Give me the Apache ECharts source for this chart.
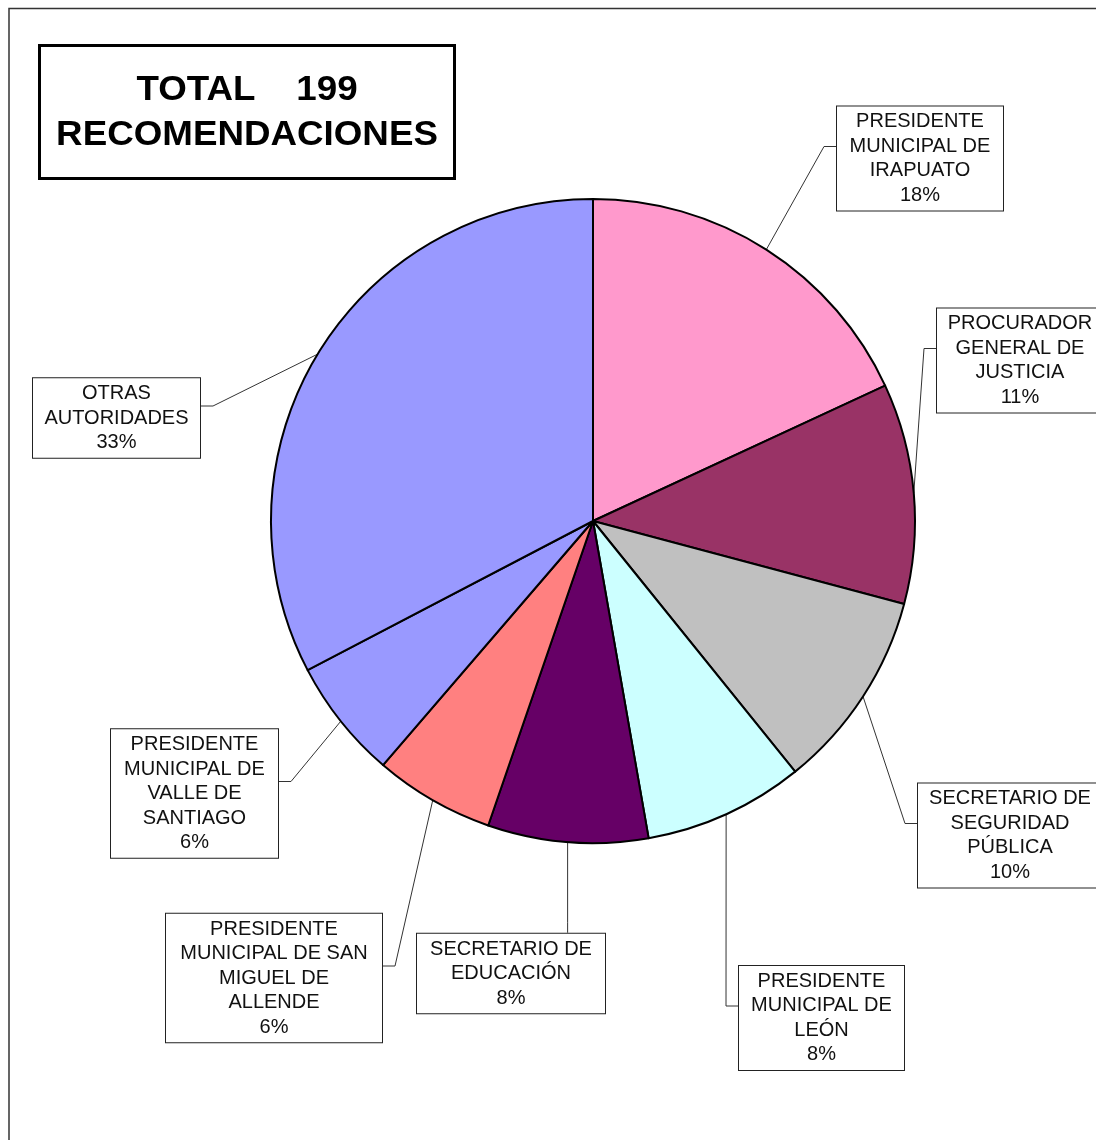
<!DOCTYPE html>
<html><head><meta charset="utf-8">
<script src="https://cdn.jsdelivr.net/npm/echarts@6/dist/echarts.min.js"></script>
<style>html,body{margin:0;padding:0;background:#fff}#c{width:1096px;height:1140px}</style>
</head><body><div id="c"></div>
<script>
const categories = [
  'PRESIDENTE\nMUNICIPAL DE\nIRAPUATO',
  'PROCURADOR\nGENERAL DE\nJUSTICIA',
  'SECRETARIO DE\nSEGURIDAD\nPÚBLICA',
  'PRESIDENTE\nMUNICIPAL DE\nLEÓN',
  'SECRETARIO DE\nEDUCACIÓN',
  'PRESIDENTE\nMUNICIPAL DE SAN\nMIGUEL DE\nALLENDE',
  'PRESIDENTE\nMUNICIPAL DE\nVALLE DE\nSANTIAGO',
  'OTRAS\nAUTORIDADES'
];
const values = [36, 22, 20, 16, 16, 12, 12, 65];
const colors = ['#FF99CC', '#993366', '#C0C0C0', '#CCFFFF', '#660066', '#FF8080', '#9999FF', '#9999FF'];
const titleLines = ['TOTAL    199', 'RECOMENDACIONES'];

// label box layout (center, outer width, side the leader line attaches to)
const labelBoxes = [
  {cx: 920, cy: 158.5, w: 168, side: 'right'},
  {cx: 1020, cy: 360.5, w: 168, side: 'right'},
  {cx: 1010, cy: 835.5, w: 186, side: 'right'},
  {cx: 821.5, cy: 1018, w: 167, side: 'right'},
  {cx: 511, cy: 973.5, w: 190, side: 'top'},
  {cx: 274, cy: 978, w: 218, side: 'left'},
  {cx: 194.5, cy: 793.5, w: 169, side: 'left'},
  {cx: 116.5, cy: 418, w: 169, side: 'left'}
];

const chart = echarts.init(document.getElementById('c'), null, {renderer: 'canvas'});

chart.setOption({
  animation: false,
  backgroundColor: '#fff',
  graphic: [
    {type: 'polyline', shape: {points: [[9, 1140], [9, 8.5], [1096, 8.5]]},
     style: {stroke: '#333', lineWidth: 1.5, fill: null}, z: 1},
    {type: 'rect', shape: {x: 39.5, y: 45.5, width: 415, height: 133},
     style: {fill: '#fff', stroke: '#000', lineWidth: 3}, z: 1},
    {type: 'text', x: 247, y: 113, scaleX: 1.05, z: 2,
     style: {text: titleLines.join('\n'), font: 'bold 35px "Liberation Sans", Arial, sans-serif',
       fill: '#000', textAlign: 'center', textVerticalAlign: 'middle',
       align: 'center', verticalAlign: 'middle', lineHeight: 45}}
  ],
  series: [{
    type: 'pie',
    center: [593, 521],
    radius: 322,
    startAngle: 90,
    clockwise: true,
    avoidLabelOverlap: false,
    percentPrecision: 0,
    emphasis: {disabled: true},
    itemStyle: {borderColor: '#000', borderWidth: 2},
    label: {
      show: true, position: 'outside', formatter: '{b}\n{d}%',
      fontFamily: '"Liberation Sans", Arial, sans-serif', fontSize: 20, lineHeight: 24.5,
      color: '#111', backgroundColor: '#fff', borderColor: '#222', borderWidth: 1,
      padding: [3, 4, 3, 4], align: 'center'
    },
    labelLine: {show: true, length: 10, length2: 10, lineStyle: {color: '#333', width: 1}},
    labelLayout: function (p) {
      const b = labelBoxes[p.dataIndex];
      const w = p.labelRect.width, h = p.labelRect.height;
      const start = p.labelLinePoints ? p.labelLinePoints[0] : [b.cx, b.cy];
      const ay = b.cy - 12;
      let pts;
      if (b.side === 'right') {
        const x = b.cx - w / 2;
        pts = [start, [x - 12, ay], [x, ay]];
      } else if (b.side === 'left') {
        const x = b.cx + w / 2;
        pts = [start, [x + 12, ay], [x, ay]];
      } else {
        const y = b.cy - h / 2;
        pts = [start, [start[0], y - 10], [start[0], y]];
      }
      return {x: b.cx, y: b.cy, align: 'center', verticalAlign: 'middle', labelLinePoints: pts};
    },
    data: categories.map((n, i) => ({
      name: n, value: values[i],
      itemStyle: {color: colors[i]},
      label: {width: labelBoxes[i].w - 10}
    }))
  }]
});
</script>
</body></html>
